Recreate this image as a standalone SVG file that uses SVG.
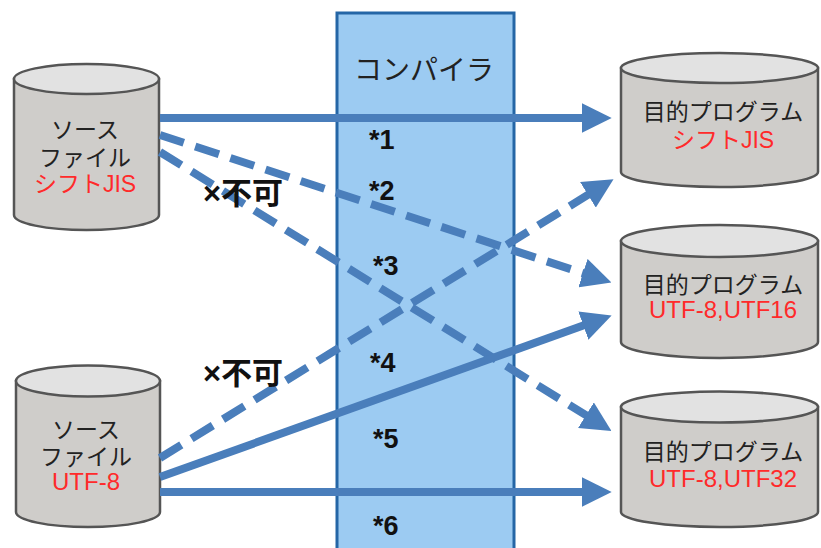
<svg xmlns="http://www.w3.org/2000/svg" width="821" height="548" viewBox="0 0 821 548">
<defs>
<style>
.cyl{fill:#cfcdca;stroke:#555;stroke-width:2.5}
.top{fill:#e2e2e2;stroke:#555;stroke-width:2.5}
.jp{font-family:"Liberation Sans","Noto Sans CJK JP",sans-serif;font-size:23px;fill:#222;text-anchor:middle}
.red{fill:#ff2a2a}
.conn{stroke:#4a7ebb;stroke-width:8;fill:none}
.dash{stroke-dasharray:25 12}
.lbl{font-family:"Liberation Sans",Arial,sans-serif;font-weight:bold;font-size:27px;fill:#111}
.ng{font-family:"Liberation Sans","Noto Sans CJK JP",sans-serif;font-weight:bold;font-size:31px;fill:#111}
</style>
<marker id="ah" markerUnits="userSpaceOnUse" markerWidth="30" markerHeight="30" viewBox="0 0 28 28" refX="4" refY="14" orient="auto">
<path d="M0,0 L28,14 L0,28 z" fill="#4a7ebb"/>
</marker>
</defs>
<rect width="821" height="548" fill="#fff"/>
<g id="compiler">
<rect x="337" y="13" width="177" height="545" fill="#9ccbf2" stroke="#2566a6" stroke-width="3"/>
<text x="424" y="80" class="jp" style="font-size:28px">コンパイラ</text>
</g>
<g id="src-sjis">
<path class="cyl" d="M14,79 L14,215 A72.5,15 0 0 0 159,215 L159,79 z"/>
<ellipse class="top" cx="86.5" cy="79" rx="72.5" ry="15"/>
<text class="jp"><tspan x="85" y="138">ソース</tspan><tspan x="85" y="166">ファイル</tspan><tspan x="85" y="192" class="red">シフトJIS</tspan></text>
</g>
<g id="src-utf8">
<path class="cyl" d="M16,381 L16,512 A72,15 0 0 0 160,512 L160,381 z"/>
<ellipse class="top" cx="88" cy="381" rx="72" ry="15.5"/>
<text class="jp"><tspan x="86" y="438">ソース</tspan><tspan x="86" y="465">ファイル</tspan><tspan x="86" y="490" class="red" style="font-size:24px">UTF-8</tspan></text>
</g>
<g id="obj-sjis">
<path class="cyl" d="M621,68 L621,172 A98.5,15 0 0 0 818,172 L818,68 z"/>
<ellipse class="top" cx="719.5" cy="68" rx="98.5" ry="15"/>
<text class="jp"><tspan x="723" y="120">目的プログラム</tspan><tspan x="723" y="148" class="red">シフトJIS</tspan></text>
</g>
<g id="obj-utf16">
<path class="cyl" d="M621,241 L621,342 A98.5,16 0 0 0 818,342 L818,241 z"/>
<ellipse class="top" cx="719.5" cy="241" rx="98.5" ry="16"/>
<text class="jp"><tspan x="723" y="293">目的プログラム</tspan><tspan x="723" y="318" class="red" style="font-size:24px">UTF-8,UTF16</tspan></text>
</g>
<g id="obj-utf32">
<path class="cyl" d="M621,407 L621,512 A98.5,15 0 0 0 818,512 L818,407 z"/>
<ellipse class="top" cx="719.5" cy="407" rx="98.5" ry="15.5"/>
<text class="jp"><tspan x="723" y="460">目的プログラム</tspan><tspan x="723" y="487" class="red" style="font-size:24px">UTF-8,UTF32</tspan></text>
</g>
<g id="connectors">
<line class="conn" x1="160" y1="118" x2="586" y2="118" marker-end="url(#ah)"/>
<line class="conn dash" x1="160" y1="135" x2="587" y2="274.5" marker-end="url(#ah)"/>
<line class="conn dash" x1="160" y1="152" x2="589.6" y2="417.4" marker-end="url(#ah)"/>
<line class="conn dash" x1="160" y1="458" x2="591.6" y2="192.6" marker-end="url(#ah)"/>
<line class="conn" x1="160" y1="477" x2="587.4" y2="324.1" marker-end="url(#ah)"/>
<line class="conn" x1="160" y1="492" x2="586" y2="492" marker-end="url(#ah)"/>
</g>
<g id="labels">
<text x="369" y="149" class="lbl">*1</text>
<text x="369" y="200" class="lbl">*2</text>
<text x="373" y="275" class="lbl">*3</text>
<text x="370" y="372" class="lbl">*4</text>
<text x="373" y="448" class="lbl">*5</text>
<text x="373" y="535" class="lbl">*6</text>
<text x="203" y="204" class="ng">×不可</text>
<text x="203" y="384" class="ng">×不可</text>
</g>
</svg>
